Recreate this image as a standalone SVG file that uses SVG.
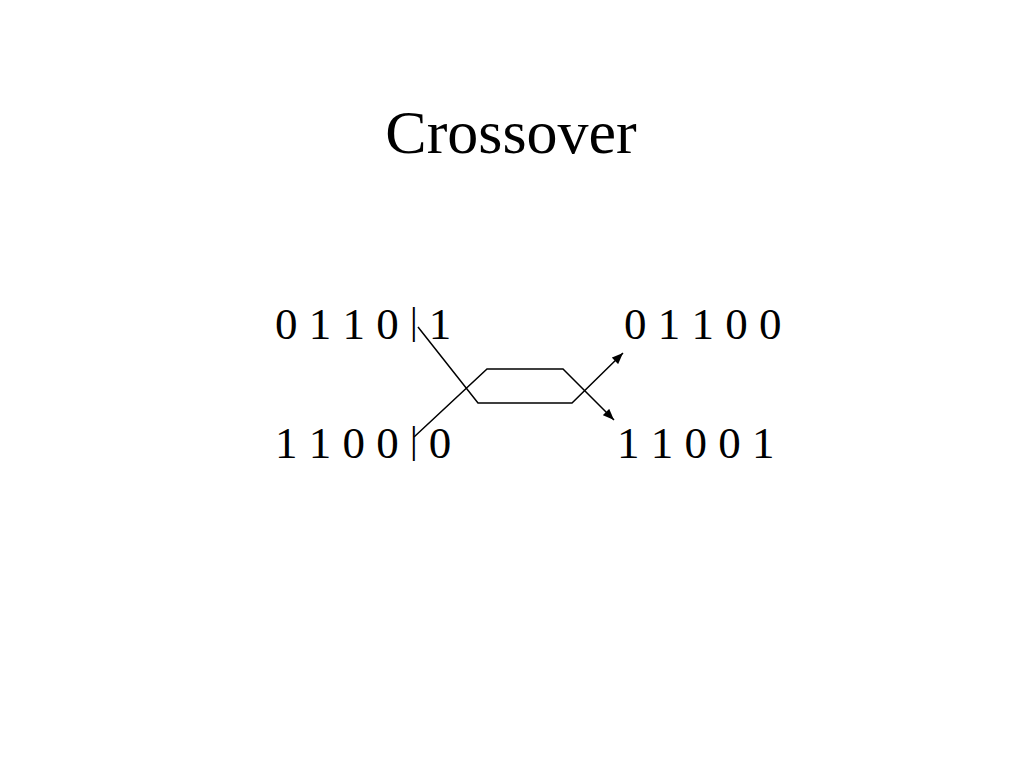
<svg xmlns="http://www.w3.org/2000/svg" width="1024" height="768" viewBox="0 0 1024 768">
<defs>
<style>
.t{font-family:"Liberation Serif","Times New Roman",serif;fill:#000}
.b{font-size:38px}
.c{fill:none;stroke:#000;stroke-width:1.5}
</style>
<marker id="ah" viewBox="0 0 10 8" refX="10" refY="4" markerWidth="12" markerHeight="9" markerUnits="userSpaceOnUse" orient="auto">
<path d="M0,0 L10,4 L0,8 Z" fill="#000"/>
</marker>
</defs>
<rect width="1024" height="768" fill="#fff"/>
<g id="title"><text class="t" x="511" y="153" font-size="62" text-anchor="middle">Crossover</text></g>
<g id="parent1"><text class="t" x="275" y="339" font-size="45" xml:space="preserve">0 1 1 0 <tspan class="b" dy="-5">|</tspan><tspan dy="5"> 1</tspan></text></g>
<g id="parent2"><text class="t" x="275" y="458" font-size="45" xml:space="preserve">1 1 0 0 <tspan class="b" dy="-5">|</tspan><tspan dy="5"> 0</tspan></text></g>
<g id="child1"><text class="t" x="624" y="339" font-size="45" xml:space="preserve">0 1 1 0 0</text></g>
<g id="child2"><text class="t" x="617" y="458" font-size="45" xml:space="preserve">1 1 0 0 1</text></g>
<g id="connectors">
<polyline class="c" points="418,327 478,403 572,403 623,353" marker-end="url(#ah)"/>
<polyline class="c" points="414,437 487,369 563,369 614,420" marker-end="url(#ah)"/>
</g>
</svg>
